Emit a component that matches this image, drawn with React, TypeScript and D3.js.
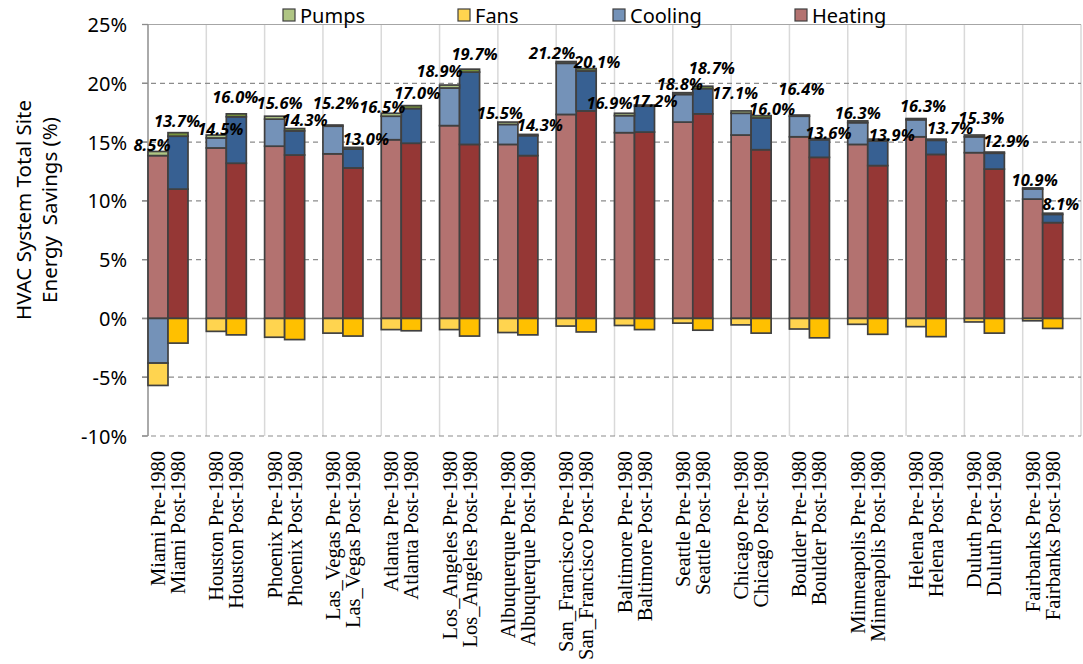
import React from 'react';
import * as d3 from 'd3';

// cities along the x axis, each with a pre-1980 and a post-1980 bar
const cities = [
  'Miami', 'Houston', 'Phoenix', 'Las_Vegas', 'Atlanta', 'Los_Angeles', 'Albuquerque', 'San_Francisco',
  'Baltimore', 'Seattle', 'Chicago', 'Boulder', 'Minneapolis', 'Helena', 'Duluth', 'Fairbanks',
];
const vintages = ['Pre-1980', 'Post-1980'];

// savings by end use (%), in bar order: city pre, city post, ...
const heating = [
  13.85, 11.0, 14.5, 13.2, 14.65, 13.9, 14.0, 12.8, 15.2, 14.9, 16.4, 14.8, 14.8, 13.85, 17.35, 17.65,
  15.8, 15.85, 16.7, 17.4, 15.6, 14.35, 15.45, 13.7, 14.8, 13.0, 15.45, 13.95, 14.1, 12.7, 10.15, 8.15,
];
const cooling = [
  -3.8, 4.5, 0.85, 3.95, 2.3, 2.05, 2.35, 1.6, 2.0, 2.95, 3.2, 6.15, 1.7, 1.7, 4.35, 3.4,
  1.45, 2.2, 2.35, 2.15, 1.85, 2.7, 1.75, 1.5, 1.85, 2.1, 1.45, 1.2, 1.35, 1.35, 0.85, 0.7,
];
const pumps = [
  0.35, 0.3, 0.25, 0.25, 0.25, 0.2, 0.1, 0.15, 0.25, 0.25, 0.25, 0.25, 0.2, 0.1, 0.15, 0.2,
  0.2, 0.1, 0.15, 0.2, 0.2, 0.2, 0.1, 0.1, 0.15, 0.15, 0.1, 0.1, 0.15, 0.1, 0.1, 0.1,
];
const fans = [
  -1.9, -2.1, -1.1, -1.4, -1.6, -1.8, -1.25, -1.5, -0.95, -1.05, -0.95, -1.5, -1.2, -1.4, -0.65, -1.15,
  -0.6, -0.95, -0.4, -1.0, -0.55, -1.25, -0.9, -1.65, -0.5, -1.35, -0.7, -1.55, -0.3, -1.25, -0.2, -0.85,
];
// net total labels printed over the bars
const totals = [
  8.5, 13.7, 14.5, 16.0, 15.6, 14.3, 15.2, 13.0, 16.5, 17.0, 18.9, 19.7, 15.5, 14.3, 21.2, 20.1,
  16.9, 17.2, 18.8, 18.7, 17.1, 16.0, 16.4, 13.6, 16.3, 13.9, 16.3, 13.7, 15.3, 12.9, 10.9, 8.1,
];
const yTicks = [-10, -5, 0, 5, 10, 15, 20, 25];

// hand-placed label nudges (px from bar centre / bar top), as in the original
const labelDx = [
  -6, -1, 4, -1, 5, 10, 3, 13, -9, 6, -10, 5, -8, 12, -14, 11,
  -15, 10, -3, 9, -6, 11, 2, 9, 0, 14, 7, 14, 7, 12, 2, 8,
];
const labelDy = [
  -7, -12, -7, -17, -14, -9, -23, -9, -7, -13, -15, -16, -10, -10, -9, -7,
  -11, -5, -9, -19, -18, -7, -27, -6, -8, -5, -13, -12, -18, -12, -8, -10,
];

const keys = ['heating', 'cooling', 'pumps', 'fans'];
const legendItems = [
  { key: 'pumps', label: 'Pumps', x: 283 },
  { key: 'fans', label: 'Fans', x: 458 },
  { key: 'cooling', label: 'Cooling', x: 613 },
  { key: 'heating', label: 'Heating', x: 795 },
];
const colors: Record<string, [string, string]> = {
  heating: ['#B37270', '#953735'],
  cooling: ['#7492B8', '#376092'],
  pumps: ['#AFC584', '#77933C'],
  fans: ['#FFD44F', '#FFC000'],
};

const W = 1083;
const H = 664;
const plot = { left: 148, right: 1081, top: 24.5, bottom: 436 };
const sans = '"Noto Sans", "Open Sans", sans-serif';

export default function App() {
  const rows = heating.map((h, i) => ({
    city: cities[Math.floor(i / 2)],
    vintage: i % 2,
    heating: h,
    cooling: cooling[i],
    pumps: pumps[i],
    fans: fans[i],
    total: totals[i],
  }));

  const x = d3.scaleBand<string>().domain(cities).range([plot.left, plot.right]).padding(0);
  const barW = x.bandwidth() * 0.343;
  const y = d3.scaleLinear().domain([-10, 25]).range([plot.bottom, plot.top]);

  const stack = d3.stack<any>().keys(keys).offset(d3.stackOffsetDiverging);
  const series = stack(rows);

  const barX = (d: any) => (x(d.city) as number) + d.vintage * barW;

  return (
    <svg width={W} height={H} style={{ position: 'absolute', left: 0, top: 0, background: '#fff' }}>
      {/* vertical separators between cities */}
      {cities.map(c => (
        <line key={c} x1={x(c)} x2={x(c)} y1={plot.top} y2={plot.bottom} stroke="#D9D9D9" strokeWidth={1.5} />
      ))}
      <line x1={plot.right} x2={plot.right} y1={plot.top} y2={plot.bottom} stroke="#D9D9D9" strokeWidth={1.5} />

      {/* horizontal grid */}
      {yTicks.map(t => (
        <line
          key={t}
          x1={plot.left - 6}
          x2={plot.right}
          y1={y(t)}
          y2={y(t)}
          stroke={t === 25 ? '#A6A6A6' : '#8C8C8C'}
          strokeWidth={t === 0 ? 1.6 : 1.2}
          strokeDasharray={t === 0 || t === 25 ? undefined : '5,4'}
        />
      ))}
      <line x1={plot.left} x2={plot.left} y1={plot.top} y2={plot.bottom} stroke="#8C8C8C" strokeWidth={1.3} />
      {yTicks.map(t => (
        <line key={'tk' + t} x1={plot.left - 6} x2={plot.left} y1={y(t)} y2={y(t)} stroke="#8C8C8C" strokeWidth={1.3} />
      ))}

      {/* tick labels */}
      {yTicks.map(t => (
        <text
          key={'tl' + t}
          x={127}
          y={y(t)}
          textAnchor="end"
          dominantBaseline="central"
          fontFamily={sans}
          fontSize={20}
          fill="#000"
        >
          {t}%
        </text>
      ))}

      {/* y axis title */}
      <g transform={`translate(23, 210) rotate(-90)`}>
        <text textAnchor="middle" dominantBaseline="central" fontFamily={sans} fontSize={20.5} fill="#000">
          HVAC System Total Site
        </text>
        <text
          y={26}
          textAnchor="middle"
          dominantBaseline="central"
          fontFamily={sans}
          fontSize={20.5}
          fill="#000"
          style={{ whiteSpace: 'pre' }}
        >
          {'Energy  Savings (%)'}
        </text>
      </g>

      {/* stacked bars */}
      {series.map(s =>
        s.map((seg, i) => {
          const d = seg.data;
          const y0 = y(seg[0]);
          const y1 = y(seg[1]);
          if (Math.abs(y0 - y1) < 0.01) return null;
          return (
            <rect
              key={s.key + i}
              x={barX(d)}
              y={Math.min(y0, y1)}
              width={barW}
              height={Math.abs(y0 - y1)}
              fill={colors[s.key][d.vintage]}
              stroke="#404040"
              strokeWidth={1.7}
            />
          );
        })
      )}

      {/* total labels */}
      {rows.map((d, i) => {
        const top = d.heating + Math.max(0, d.cooling) + d.pumps;
        return (
          <text
            key={'lab' + i}
            x={barX(d) + barW / 2 + labelDx[i]}
            y={y(top) + labelDy[i]}
            textAnchor="middle"
            dominantBaseline="central"
            fontFamily={sans}
            fontSize={16.5}
            fontWeight="bold"
            fontStyle="italic"
            fill="#000"
          >
            {d.total.toFixed(1)}%
          </text>
        );
      })}

      {/* x labels */}
      {rows.map((d, i) => (
        <text
          key={'xl' + i}
          transform={`translate(${barX(d) + barW / 2}, 451) rotate(-90)`}
          textAnchor="end"
          dominantBaseline="central"
          fontFamily='"Liberation Serif", "Times New Roman", serif'
          fontSize={20.5}
          fill="#000"
        >
          {d.city} {vintages[d.vintage]}
        </text>
      ))}

      {/* legend */}
      {legendItems.map(l => (
        <g key={l.key}>
          <rect x={l.x} y={9} width={12} height={12} fill={colors[l.key][0]} stroke="#404040" strokeWidth={1.2} />
          <text x={l.x + 17} y={15} dominantBaseline="central" fontFamily={sans} fontSize={20} fill="#000">
            {l.label}
          </text>
        </g>
      ))}
    </svg>
  );
}
